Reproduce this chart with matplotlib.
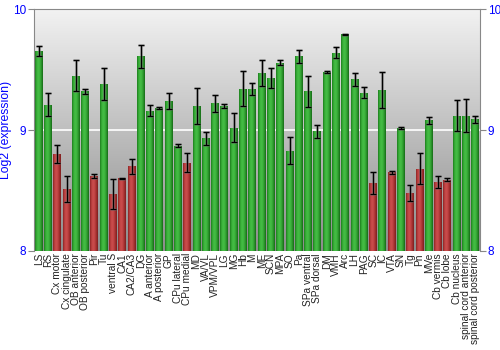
import numpy as np
import matplotlib
matplotlib.use("Agg")
import matplotlib.pyplot as plt
from matplotlib.colors import LinearSegmentedColormap

plt.rcParams["font.family"] = ["Liberation Sans", "DejaVu Sans"]

regions = ["LS", "RS", "Cx motor", "Cx cingulate", "OB anterior", "OB posterior",
           "Pir", "Tu", "ventral S", "CA1", "CA2/CA3", "DG", "A anterior",
           "A posterior", "GP", "CPu lateral", "CPu medial", "MD", "VA/VL",
           "VPM/VPL", "LG", "MG", "Hb", "M", "ME", "SCN", "MPA", "SO", "Pa",
           "SPa ventral", "SPa dorsal", "DM", "VMH", "Arc", "LH", "PAG", "SC",
           "IC", "VTA", "SN", "Tg", "Pn", "MVe", "Cb vermis", "Cb lobe",
           "Cb nucleus", "spinal cord anterior", "spinal cord posterior"]

expr = [9.655, 9.21, 8.80, 8.51, 9.45, 9.32, 8.62, 9.38, 8.47, 8.60, 8.70, 9.61,
        9.16, 9.18, 9.24, 8.87, 8.73, 9.20, 8.93, 9.22, 9.20, 9.02, 9.34, 9.34,
        9.47, 9.43, 9.555, 8.83, 9.61, 9.32, 8.99, 9.48, 9.64, 9.79, 9.42, 9.31,
        8.56, 9.33, 8.65, 9.02, 8.48, 8.68, 9.08, 8.57, 8.59, 9.12, 9.12, 9.09]

err = [0.04, 0.098, 0.075, 0.106, 0.13, 0.02, 0.014, 0.134, 0.126, 0.004, 0.062,
       0.097, 0.044, 0.008, 0.069, 0.012, 0.076, 0.149, 0.054, 0.073, 0.019,
       0.123, 0.145, 0.047, 0.11, 0.079, 0.021, 0.11, 0.055, 0.126, 0.055,
       0.012, 0.046, 0.004, 0.055, 0.044, 0.09, 0.15, 0.011, 0.008, 0.068,
       0.128, 0.028, 0.047, 0.01, 0.128, 0.14, 0.03]

low = {"Cx motor", "Cx cingulate", "Pir", "ventral S", "CA1", "CA2/CA3",
       "CPu medial", "SC", "VTA", "Tg", "Pn", "Cb vermis", "Cb lobe"}

green_cm = LinearSegmentedColormap.from_list(
    "g", ["#1c7d1c", "#3db53d", "#46bd46", "#30a030", "#176a17"])
red_cm = LinearSegmentedColormap.from_list(
    "r", ["#8c2424", "#c44646", "#ca4c4c", "#ac3434", "#7c1e1e"])

fig = plt.figure(figsize=(5, 3.5), dpi=100)
ax = fig.add_axes([0.068, 0.283, 0.892, 0.691])

x = np.arange(len(regions))
ax.set_xlim(-0.5, len(regions) - 0.5)
ax.set_ylim(8, 10)

# gray vertical gradient behind the bars, light at the top
bg = np.linspace(0, 1, 256).reshape(-1, 1)
bg_cm = LinearSegmentedColormap.from_list("bg", ["#f2f2f2", "#8c8c8c"])
ax.imshow(bg, cmap=bg_cm, aspect="auto", extent=(-0.5, len(regions) - 0.5, 8, 10),
          zorder=0, interpolation="bilinear")
ax.axhline(9, color="white", lw=1.2, zorder=1)

bars = ax.bar(x, np.array(expr) - 8, bottom=8, width=0.86, color="none", zorder=2)
grad = np.linspace(0, 1, 64).reshape(1, -1)
for name, b in zip(regions, bars):
    x0, w = b.get_x(), b.get_width()
    top = b.get_y() + b.get_height()
    cm = red_cm if name in low else green_cm
    im = ax.imshow(grad, cmap=cm, aspect="auto", extent=(x0, x0 + w, 8, top),
                   zorder=2, interpolation="bilinear")
    im.set_clip_path(b)

ax.errorbar(x, expr, yerr=err, fmt="none", ecolor="#777777", elinewidth=2.2,
            capsize=2.5, capthick=2, alpha=0.5, zorder=3)
ax.errorbar(x, expr, yerr=err, fmt="none", ecolor="black", elinewidth=0.9,
            capsize=2.2, capthick=0.9, zorder=4)

ax.set_yticks([8, 9, 10])
ax.tick_params(axis="y", colors="#888888", labelcolor="blue", labelsize=8.5,
               length=4, pad=1.5, left=True, right=True,
               labelleft=True, labelright=True)
ax.set_xticks(x)
ax.set_xticklabels(regions, rotation=90, fontsize=7.3, color="#222222")
ax.tick_params(axis="x", length=0, pad=1.5)
ax.set_ylabel("Log2 (expression)", color="blue", fontsize=8.8)
ax.yaxis.set_label_coords(-0.05, 0.5)

for side in ["left", "right", "top"]:
    ax.spines[side].set_color("#888888")
ax.spines["bottom"].set_visible(False)

fig.savefig("out.png", dpi=100)
